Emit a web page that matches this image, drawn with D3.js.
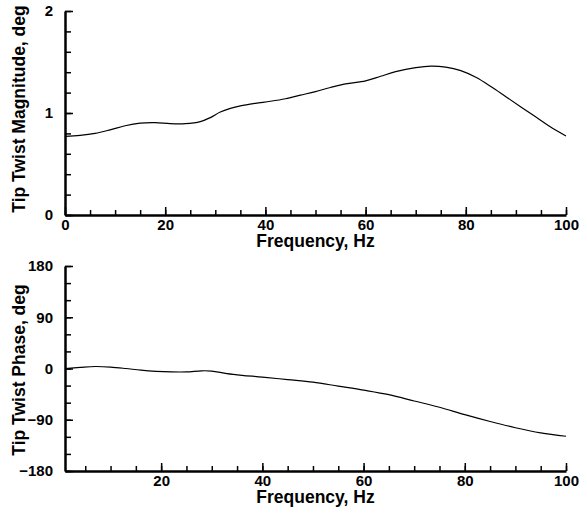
<!DOCTYPE html>
<html>
<head>
<meta charset="utf-8">
<script src="https://cdn.jsdelivr.net/npm/d3@7"></script>
<style>
  body { margin: 0; background: #fff; }
  svg text { font-family: "Liberation Sans", Arial, sans-serif; font-weight: bold; fill: #000; }
  .axis path, .axis line { stroke: #000; }
</style>
</head>
<body>
<div id="chart"></div>
<script>
// frequency response
var magFreq = [0, 3, 6, 9, 12, 15, 18, 21, 24, 27, 29, 31, 33, 35, 38, 41, 44, 47, 50, 53, 56, 60, 63, 66, 70, 73, 76, 79, 82, 85, 88, 91, 94, 97, 100];
var magValue = [0.77, 0.78, 0.80, 0.835, 0.875, 0.90, 0.905, 0.895, 0.895, 0.915, 0.955, 1.01, 1.045, 1.07, 1.095, 1.115, 1.14, 1.175, 1.21, 1.25, 1.285, 1.315, 1.36, 1.405, 1.445, 1.46, 1.45, 1.415, 1.35, 1.26, 1.16, 1.06, 0.96, 0.86, 0.775];

var phaseFreq = [1, 4, 7, 10, 13, 16, 19, 22, 25, 28, 30, 33, 36, 40, 45, 50, 55, 60, 65, 70, 75, 80, 85, 90, 95, 100];
var phaseValue = [0, 2, 3.5, 2.5, 0, -3, -5, -6, -6, -4, -4.5, -9, -12, -15, -19.5, -24, -31, -38, -46, -57, -68, -81, -93, -104, -113, -119];

var magTicks = [0, 1, 2];
var phaseTicks = [-180, -90, 0, 90, 180];
var freqTicks = [0, 20, 40, 60, 80, 100];

var W = 580, H = 507;
var svg = d3.select("#chart").append("svg")
    .attr("width", W)
    .attr("height", H);

function panel(opts) {
    var x = d3.scaleLinear().domain(opts.xDomain).range([65, 566]);
    var y = d3.scaleLinear().domain(opts.yDomain).range([opts.bottom, opts.top]);
    var g = svg.append("g");

    // minor ticks first (no labels)
    g.append("g")
        .attr("class", "axis")
        .attr("transform", "translate(0," + opts.bottom + ")")
        .call(d3.axisBottom(x).tickValues(d3.range(0, 101, 5).filter(d => d >= opts.xDomain[0]))
            .tickSize(-5).tickFormat(""))
        .call(a => a.selectAll("line").attr("stroke-width", 1.5))
        .call(a => a.select(".domain").remove());

    g.append("g")
        .attr("class", "axis")
        .attr("transform", "translate(65,0)")
        .call(d3.axisLeft(y).tickValues(opts.yMinor).tickSize(-6).tickFormat(""))
        .call(a => a.selectAll("line").attr("stroke-width", 1.5))
        .call(a => a.select(".domain").remove());

    // major ticks with labels
    var xAxis = g.append("g")
        .attr("class", "axis")
        .attr("transform", "translate(0," + opts.bottom + ")")
        .call(d3.axisBottom(x).tickValues(freqTicks.filter(d => d >= opts.xDomain[0] && d > opts.skipX))
            .tickSize(-8).tickSizeOuter(0).tickPadding(4).tickFormat(d3.format("d")));
    xAxis.select(".domain").attr("stroke-width", 2.5);
    xAxis.selectAll("line").attr("stroke-width", 1.5);
    xAxis.selectAll("text").style("font-size", "15px");

    var yAxis = g.append("g")
        .attr("class", "axis")
        .attr("transform", "translate(65,0)")
        .call(d3.axisLeft(y).tickValues(opts.yTicks).tickSize(-8).tickSizeOuter(0).tickPadding(12)
            .tickFormat(d3.format("d")));
    yAxis.select(".domain").attr("stroke-width", 2.5);
    yAxis.selectAll("line").attr("stroke-width", 1.5);
    yAxis.selectAll("text").style("font-size", "15px");

    // the curve
    var line = d3.line()
        .x(d => x(d[0]))
        .y(d => y(d[1]))
        .curve(d3.curveCatmullRom);

    g.append("path")
        .datum(d3.zip(opts.freq, opts.values))
        .attr("d", line)
        .attr("fill", "none")
        .attr("stroke", "#000")
        .attr("stroke-width", 1.2);

    // axis titles
    g.append("text")
        .attr("x", 315.5)
        .attr("y", opts.bottom + 32)
        .attr("text-anchor", "middle")
        .style("font-size", "17.5px")
        .text("Frequency, Hz");

    g.append("text")
        .attr("transform", "translate(25," + opts.titleY + ") rotate(-90)")
        .attr("text-anchor", "middle")
        .style("font-size", "17.5px")
        .text(opts.yTitle);
}

panel({
    xDomain: [0, 100], yDomain: [0, 2], top: 11, bottom: 215,
    yTicks: magTicks, yMinor: d3.range(0, 2.01, 0.2).map(d => +d.toFixed(1)),
    skipX: -1,
    freq: magFreq, values: magValue,
    titleY: 109, yTitle: "Tip Twist Magnitude, deg"
});

panel({
    xDomain: [1, 100], yDomain: [-180, 180], top: 266, bottom: 471,
    yTicks: phaseTicks, yMinor: d3.range(-180, 181, 30),
    skipX: 0,
    freq: phaseFreq, values: phaseValue,
    titleY: 370, yTitle: "Tip Twist Phase, deg"
});
</script>
</body>
</html>
